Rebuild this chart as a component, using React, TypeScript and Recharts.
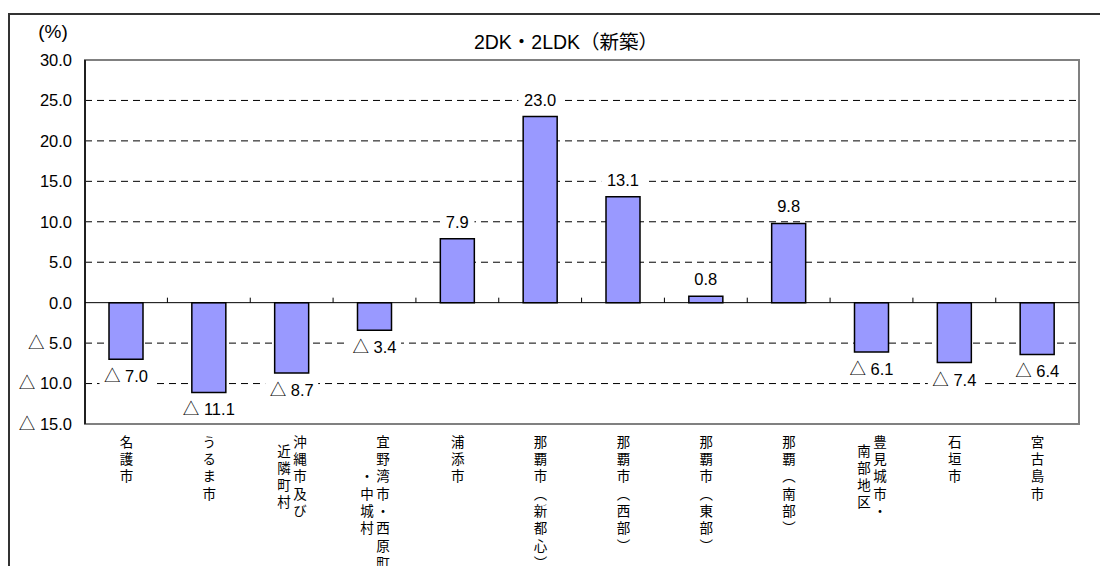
import React from 'react';
import {
  BarChart,
  Bar,
  XAxis,
  YAxis,
  CartesianGrid,
  ReferenceLine,
  ReferenceArea,
  LabelList,
  Rectangle,
  usePlotArea,
} from 'recharts';

// Area names (category axis)
const areas = [
  '名護市',
  'うるま市',
  '沖縄市及び近隣町村',
  '宜野湾市・西原町・中城村',
  '浦添市',
  '那覇市（新都心）',
  '那覇市（西部）',
  '那覇市（東部）',
  '那覇（南部）',
  '豊見城市・南部地区',
  '石垣市',
  '宮古島市',
];

// How each name wraps into vertical columns (right column first)
const areaColumns: string[][] = [
  ['名護市'],
  ['うるま市'],
  ['沖縄市及び', '近隣町村'],
  ['宜野湾市・西原町', '・中城村'],
  ['浦添市'],
  ['那覇市（新都心）'],
  ['那覇市（西部）'],
  ['那覇市（東部）'],
  ['那覇（南部）'],
  ['豊見城市・', '南部地区'],
  ['石垣市'],
  ['宮古島市'],
];

// Rate of change (%)
const changes = [-7.0, -11.1, -8.7, -3.4, 7.9, 23.0, 13.1, 0.8, 9.8, -6.1, -7.4, -6.4];

const yTicks = [30, 25, 20, 15, 10, 5, 0, -5, -10, -15];
const dashedLevels = [25, 20, 15, 10, 5, -5, -10];

const data = areas.map((area, i) => ({ area, change: changes[i] }));

const LATIN = "'Liberation Sans', 'Noto Sans CJK JP', sans-serif";
const CJK = "'Noto Sans CJK JP', sans-serif";

// Negative values are written with a leading triangle
const fmt = (v: number) => (v < 0 ? `△ ${(-v).toFixed(1)}` : v.toFixed(1));

function BarWithDivider(props: any) {
  const plot = usePlotArea();
  const { x, y, width, height, index, payload } = props;
  const top = Math.min(y, y + height);
  const bottom = Math.max(y, y + height);
  const zeroY = payload.change >= 0 ? bottom : top;
  const band = plot ? plot.width / areas.length : 0;
  const divX = x + width / 2 + band / 2;
  return (
    <g>
      <Rectangle
        x={x}
        y={top}
        width={width}
        height={bottom - top}
        fill="#9999FF"
        stroke="#000"
        strokeWidth={1.5}
      />
      {index < areas.length - 1 && (
        <line x1={divX} x2={divX} y1={zeroY - 5} y2={zeroY} stroke="#000" strokeWidth={1} />
      )}
    </g>
  );
}

function ValueLabel(props: any) {
  const { x, y, width, height, value } = props;
  const v = Number(value);
  const cx = x + width / 2;
  const top = Math.min(y, y + height);
  const bottom = Math.max(y, y + height);
  const cy = v >= 0 ? top - 17 : bottom + 17;
  const text = fmt(v);
  const w = text.length * 9.4 + 6;
  return (
    <g>
      <rect x={cx - w / 2} y={cy - 10} width={w} height={20} fill="#fff" />
      <text
        x={cx}
        y={cy}
        textAnchor="middle"
        dominantBaseline="central"
        fontSize={16.5}
        fontFamily={LATIN}
        fill="#000"
      >
        {text}
      </text>
    </g>
  );
}

function AreaTick(props: any) {
  const { x, y, payload } = props;
  const idx = areas.indexOf(payload.value);
  const cols = areaColumns[idx] || [payload.value];
  const pitch = 17.3;
  const maxLen = Math.max(...cols.map((c) => [...c].length));
  return (
    <g>
      {cols.map((c, i) => {
        const cx = cols.length === 1 ? x : x + (i === 0 ? 8 : -8);
        const off = ((maxLen - [...c].length) * pitch) / 2;
        return (
          <text
            key={i}
            x={cx}
            y={y + 11 + off}
            writingMode="vertical-rl"
            style={{ writingMode: 'vertical-rl' }}
            textAnchor="start"
            fontSize={13.5}
            letterSpacing={3.8}
            fontFamily={CJK}
            fill="#000"
          >
            {c}
          </text>
        );
      })}
    </g>
  );
}

export default function App() {
  return (
    <div style={{ position: 'absolute', left: 0, top: 0, width: 1100, height: 566, background: '#fff' }}>
      <div
        style={{
          position: 'absolute',
          left: 8,
          top: 13,
          width: 1100,
          height: 566,
          borderTop: '2px solid #333',
          borderLeft: '2px solid #333',
          boxSizing: 'border-box',
        }}
      />
      <div
        style={{
          position: 'absolute',
          left: 0,
          width: 1132,
          top: 30,
          textAlign: 'center',
          fontSize: 19.5,
          fontFamily: LATIN,
          color: '#000',
          lineHeight: '24px',
        }}
      >
        2DK・2LDK（新築）
      </div>
      <div
        style={{
          position: 'absolute',
          left: 23,
          width: 60,
          top: 20,
          textAlign: 'center',
          fontSize: 19,
          fontFamily: LATIN,
          color: '#000',
          lineHeight: '24px',
        }}
      >
        (%)
      </div>
      <div style={{ position: 'absolute', left: 0, top: 0 }}>
        <BarChart
          width={1100}
          height={566}
          data={data}
          margin={{ top: 60, right: 21, left: 0, bottom: 0 }}
          barSize={34}
        >
          <CartesianGrid
            horizontal
            vertical={false}
            horizontalValues={dashedLevels}
            stroke="#000"
            strokeDasharray="7 5"
          />
          <ReferenceArea y1={-15} y2={30} fill="none" stroke="#808080" strokeWidth={2} />
          <XAxis
            dataKey="area"
            height={142}
            axisLine={false}
            tickLine={false}
            tickSize={0}
            tickMargin={0}
            interval={0}
            tick={<AreaTick />}
          />
          <YAxis
            width={85}
            domain={[-15, 30]}
            ticks={yTicks}
            interval={0}
            tickFormatter={fmt}
            axisLine={{ stroke: '#000', strokeWidth: 1.5 }}
            tickLine={false}
            tickSize={0}
            tickMargin={13}
            tick={{ fontSize: 16.5, fill: '#000', fontFamily: LATIN }}
          />
          <ReferenceLine y={0} stroke="#000" strokeWidth={1} />
          <Bar dataKey="change" isAnimationActive={false} shape={(p: any) => <BarWithDivider {...p} />}>
            <LabelList dataKey="change" content={(p: any) => <ValueLabel {...p} />} />
          </Bar>
        </BarChart>
      </div>
    </div>
  );
}
